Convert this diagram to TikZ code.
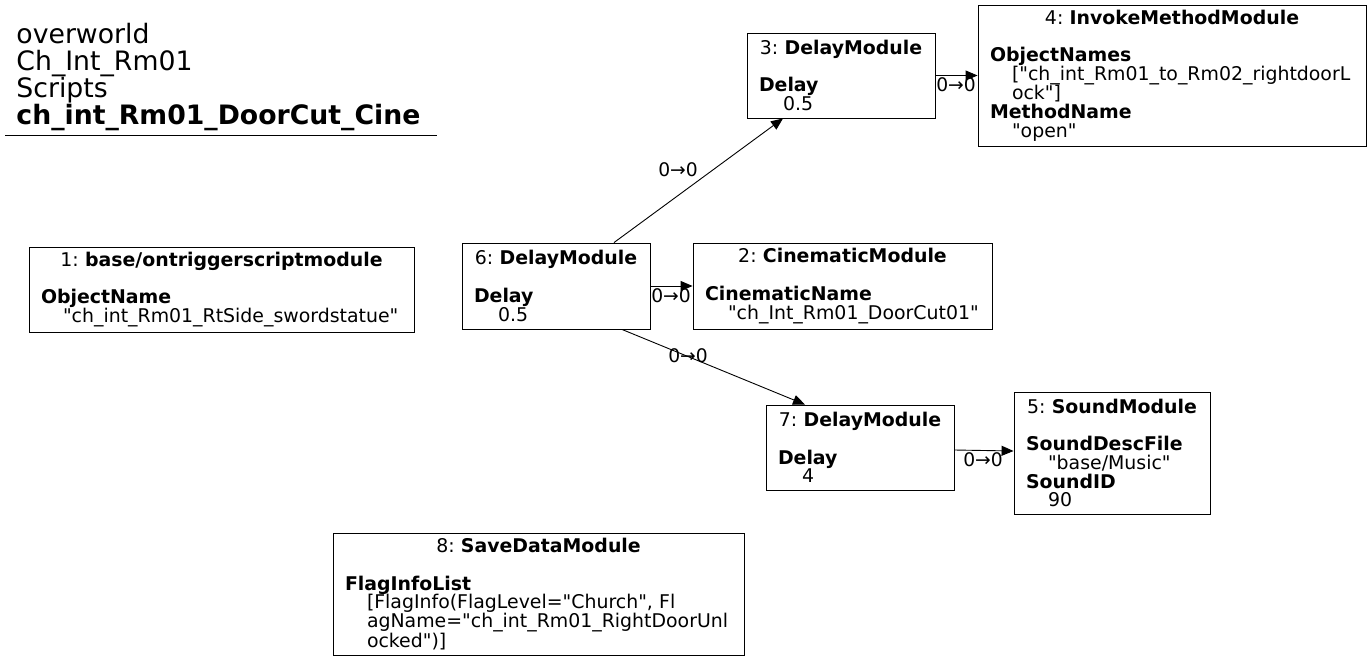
\documentclass[tikz,border=0pt]{standalone}
\usepackage{fontspec}
\setmainfont{DejaVu Sans}[Ligatures=TeXOff]
\usetikzlibrary{arrows.meta}
\newcommand{\modhead}[2]{\makebox[\hsize][c]{#1: \textbf{#2}}\\[18.7pt]}
\newcommand{\modkey}[1]{\textbf{#1}}
\newcommand{\modval}[2][22pt]{\hspace*{#1}#2}

\begin{document}
\frenchspacing
\begin{tikzpicture}[x=1pt,y=-1pt,line width=0.9pt,
  module/.style={draw,align=left,inner xsep=12pt,inner ysep=0pt,font=\fontsize{18.9}{18.7}\selectfont},
  edge/.style={-{Triangle[length=12pt,width=10pt]}},
  lbl/.style={font=\fontsize{18.7}{18.7}\selectfont,inner sep=0pt}]
\useasboundingbox (0,0) rectangle (1372,661);
\node[anchor=base west,align=left,inner sep=0pt,font=\fontsize{26.7}{27}\selectfont] (title) at (16,124)
  {overworld\\Ch\_Int\_Rm01\\Scripts\\\textbf{ch\_int\_Rm01\_DoorCut\_Cine}};
\draw (5,135) -- (437,135);
% modules
\node[module,text width=361pt,minimum height=85pt] (m1) at (221.5,289.5)
  {\modhead{1}{base/ontriggerscriptmodule}\modkey{ObjectName}\\\modval{"ch\_int\_Rm01\_RtSide\_swordstatue"}};
\node[module,text width=164pt,minimum height=86pt] (m6) at (556,286)
  {\modhead{6}{DelayModule}\modkey{Delay}\\\modval[24pt]{0.5}};
\node[module,text width=275pt,minimum height=86pt] (m2) at (842.5,286)
  {\modhead{2}{CinematicModule}\modkey{CinematicName}\\\modval[23pt]{"ch\_Int\_Rm01\_DoorCut01"}};
\node[module,text width=164pt,minimum height=85pt] (m3) at (841,75.5)
  {\modhead{3}{DelayModule}\modkey{Delay}\\\modval[24pt]{0.5}};
\node[module,text width=364pt,minimum height=141pt] (m4) at (1172,75.5)
  {\modhead{4}{InvokeMethodModule}\modkey{ObjectNames}\\\modval{["ch\_int\_Rm01\_to\_Rm02\_rightdoorL}\\\modval{ock"]}\\
   \modkey{MethodName}\\\modval{"open"}};
\node[module,text width=164pt,minimum height=85pt] (m7) at (860,447.5)
  {\modhead{7}{DelayModule}\modkey{Delay}\\\modval[24pt]{4}};
\node[module,text width=172pt,minimum height=122pt] (m5) at (1112,453)
  {\modhead{5}{SoundModule}\modkey{SoundDescFile}\\\modval{"base/Music"}\\\modkey{SoundID}\\\modval{90}};
\node[module,text width=387pt,minimum height=122pt] (m8) at (538.5,594)
  {\modhead{8}{SaveDataModule}\modkey{FlagInfoList}\\\modval{[FlagInfo(FlagLevel="Church",~Fl}\\
   \modval{agName="ch\_int\_Rm01\_RightDoorUnl}\\\modval{ocked")]}};
% links
\draw[edge] ([xshift=58pt]m6.north) -- ([xshift=-58pt]m3.south);
\draw[edge] (m3.east) -- (m4.west);
\draw[edge] (m6.east) -- (m2.west);
\draw[edge] ([xshift=66pt]m6.south) -- ([xshift=-55pt]m7.north);
\draw[edge] ([yshift=-2.5pt]m7.east) -- ([yshift=2pt]m5.west);
\node[lbl] (l63) at (678,170) {0→0};
\node[lbl] (l34) at (956,85) {0→0};
\node[lbl] (l62) at (671,296) {0→0};
\node[lbl] (l67) at (688,356) {0→0};
\node[lbl] (l75) at (983,460) {0→0};
\end{tikzpicture}
\end{document}
